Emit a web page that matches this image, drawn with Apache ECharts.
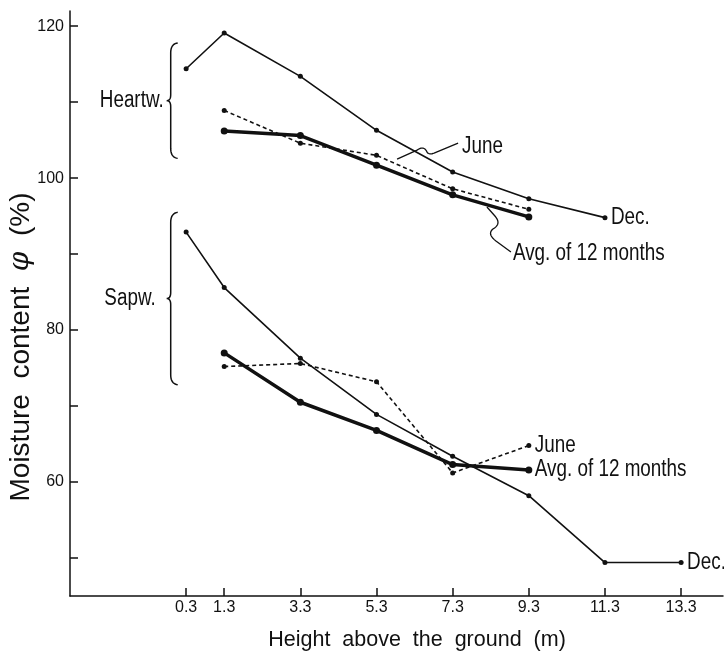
<!DOCTYPE html>
<html><head><meta charset="utf-8">
<script src="https://cdn.jsdelivr.net/npm/echarts@6/dist/echarts.min.js"></script>
<style>html,body{margin:0;padding:0;background:#fff}#c{width:724px;height:652px}</style>
</head><body><div id="c"></div>
<script>
// ---- data ----
const xTickValues = [0.3, 1.3, 3.3, 5.3, 7.3, 9.3, 11.3, 13.3];
const yTickValues = [50, 60, 70, 80, 90, 100, 110, 120];
const yLabelValues = [60, 80, 100, 120];

const heartDecX  = [0.3, 1.3, 3.3, 5.3, 7.3, 9.3, 11.3];
const heartDec   = [114.4, 119.1, 113.4, 106.3, 100.8, 97.3, 94.8];
const heartJuneX = [1.3, 3.3, 5.3, 7.3, 9.3];
const heartJune  = [108.9, 104.6, 103.0, 98.6, 95.9];
const heartAvgX  = [1.3, 3.3, 5.3, 7.3, 9.3];
const heartAvg   = [106.2, 105.6, 101.7, 97.8, 94.9];

const sapDecX  = [0.3, 1.3, 3.3, 5.3, 7.3, 9.3, 11.3, 13.3];
const sapDec   = [92.9, 85.6, 76.3, 68.9, 63.4, 58.2, 49.4, 49.4];
const sapJuneX = [1.3, 3.3, 5.3, 7.3, 9.3];
const sapJune  = [75.2, 75.6, 73.2, 61.2, 64.8];
const sapAvgX  = [1.3, 3.3, 5.3, 7.3, 9.3];
const sapAvg   = [77.0, 70.5, 66.8, 62.3, 61.6];

// ---- styling ----
const INK = '#111';
const REG = '"Liberation Sans", Arial, sans-serif';
const ANN_FONT = `23px ${REG}`;
const NARROW_SCALE = 0.82;

function line(name, xs, ys, kind) {
  const thick = kind === 'avg';
  return {
    name, type: 'line', data: xs.map((x, i) => [x, ys[i]]),
    symbol: 'circle', symbolSize: thick ? 7 : 5,
    itemStyle: { color: INK },
    lineStyle: { color: INK, width: thick ? 3.5 : 1.6, type: kind === 'june' ? [4, 3] : 'solid' },
    z: thick ? 3 : 2
  };
}

const chart = echarts.init(document.getElementById('c'), null, { renderer: 'canvas' });
chart.setOption({
  animation: false,
  backgroundColor: '#fff',
  grid: { left: 70, right: 1, top: 11, bottom: 56 },
  xAxis: {
    type: 'value', min: -2.75, max: 14.4,
    axisLine: { onZero: false, lineStyle: { color: INK, width: 1.5 } },
    axisTick: { show: true, inside: true, length: 8, customValues: xTickValues, lineStyle: { color: INK, width: 1.5 } },
    axisLabel: { customValues: xTickValues, color: INK, fontFamily: REG, fontSize: 16, margin: 4,
      formatter: v => String(v) },
    splitLine: { show: false }
  },
  yAxis: {
    type: 'value', min: 45, max: 122,
    axisLine: { show: true, onZero: false, lineStyle: { color: INK, width: 1.5 } },
    axisTick: { show: true, inside: true, length: 8, customValues: yTickValues, lineStyle: { color: INK, width: 1.5 } },
    axisLabel: { customValues: yLabelValues, color: INK, fontFamily: REG, fontSize: 16, margin: 6 },
    splitLine: { show: false }
  },
  series: [
    line('Heartwood Dec.', heartDecX, heartDec, 'dec'),
    line('Heartwood June', heartJuneX, heartJune, 'june'),
    line('Heartwood Avg. of 12 months', heartAvgX, heartAvg, 'avg'),
    line('Sapwood Dec.', sapDecX, sapDec, 'dec'),
    line('Sapwood June', sapJuneX, sapJune, 'june'),
    line('Sapwood Avg. of 12 months', sapAvgX, sapAvg, 'avg')
  ]
});

// ---- annotations (anchored in data coordinates) ----
const px = (x, y) => chart.convertToPixel({ gridIndex: 0 }, [x, y]);
const g = [];

// build a polyline from a list of segments: ['L',x,y] or ['Q',cx,cy,x,y]
function trace(start, segs) {
  const out = [start.slice()];
  let cur = start.slice();
  segs.forEach(s => {
    if (s[0] === 'L') { cur = [s[1], s[2]]; out.push(cur); }
    else {
      const [_, qx, qy, ex, ey] = s;
      for (let t = 1; t <= 10; t++) {
        const u = t / 10, a = (1 - u) * (1 - u), b = 2 * u * (1 - u), c = u * u;
        out.push([a * cur[0] + b * qx + c * ex, a * cur[1] + b * qy + c * ey]);
      }
      cur = [ex, ey];
    }
  });
  return out;
}
function addPoly(points, w) {
  g.push({ type: 'polyline', shape: { points }, style: { fill: null, stroke: INK, lineWidth: w } });
}
function addText(text, x, y, align) {
  g.push({ type: 'text', x, y, scaleX: NARROW_SCALE, z: 10,
    style: { text, fill: INK, font: ANN_FONT, align, verticalAlign: 'middle' } });
}

function brace(xd, topD, botD, labelText, labelGap) {
  const [cx, top] = px(xd, topD);
  const bot = px(xd, botD)[1];
  const mid = (top + bot) / 2;
  const v = cx - 4;
  addPoly(trace([cx + 3, top], [
    ['Q', v, top + 1, v, top + 10], ['L', v, mid - 6], ['Q', v, mid, cx - 8, mid],
    ['Q', v, mid, v, mid + 6], ['L', v, bot - 10], ['Q', v, bot - 1, cx + 3, bot]
  ]), 1.5);
  addText(labelText, cx - labelGap, mid, 'right');
}
brace(0.0, 117.8, 102.6, 'Heartw.', 11);
brace(0.0, 95.5, 72.8, 'Sapw.', 19);

// June leader (heartwood)
(function () {
  const [x0, y0] = px(5.84, 102.5);
  addPoly(trace([x0, y0], [
    ['L', x0 + 20, y0 - 9], ['Q', x0 + 27, y0 - 14, x0 + 30, y0 - 7],
    ['Q', x0 + 32, y0 - 4, x0 + 37, y0 - 6], ['L', x0 + 61, y0 - 16]
  ]), 1.3);
  addText('June', x0 + 65, y0 - 12, 'left');
})();
// Avg leader (heartwood)
(function () {
  const [x0, y0] = px(8.20, 96.2);
  addPoly(trace([x0, y0], [
    ['L', x0 + 8, y0 + 9], ['Q', x0 + 15, y0 + 17, x0 + 6, y0 + 22],
    ['Q', x0, y0 + 27, x0 + 9, y0 + 34], ['L', x0 + 24, y0 + 45]
  ]), 1.3);
  addText('Avg. of 12 months', x0 + 26, y0 + 47, 'left');
})();

// end labels next to last points
function endLabel(xs, ys, text) {
  const [x, y] = px(xs[xs.length - 1], ys[ys.length - 1]);
  addText(text, x + 6, y, 'left');
}
endLabel(heartDecX, heartDec, 'Dec.');
endLabel(sapDecX, sapDec, 'Dec.');
endLabel(sapJuneX, sapJune, 'June');
endLabel(sapAvgX, sapAvg, 'Avg. of 12 months');

// axis titles
g.push({ type: 'text', x: 417, y: 640,
  style: { text: 'Height  above  the  ground  (m)', fill: INK, font: `21.5px ${REG}`, align: 'center', verticalAlign: 'middle' } });
g.push({ type: 'text', x: 21, y: 347, rotation: Math.PI / 2,
  style: { text: '{a|Moisture  content  }{b|φ}{a|  (%)}', align: 'center', verticalAlign: 'middle',
    rich: { a: { fill: INK, fontFamily: REG, fontSize: 28 },
            b: { fill: INK, fontFamily: '"DejaVu Serif", serif', fontStyle: 'italic', fontSize: 28 } } } });

chart.setOption({ graphic: g });
</script>
</body></html>
